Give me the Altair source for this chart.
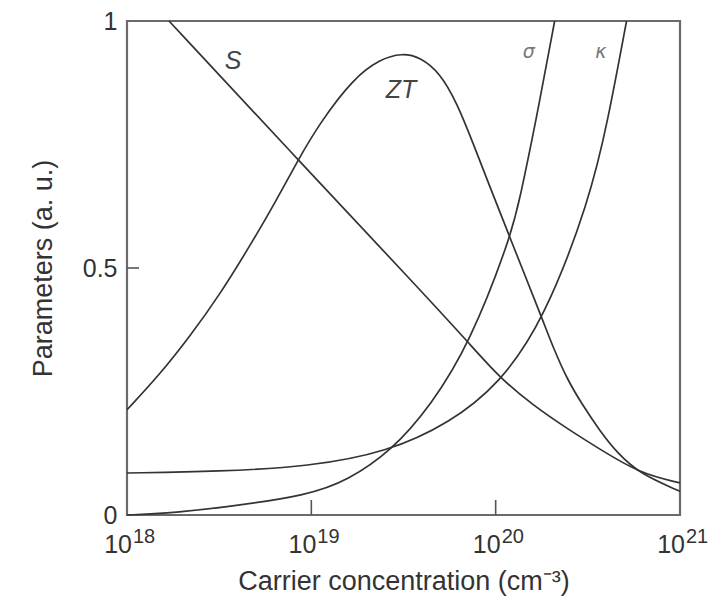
import altair as alt
import pandas as pd

# Carrier concentration given as log10(n / cm^-3); curve values in arbitrary units.
S_exp = [18.228, 18.928, 19.59, 19.855, 20.024, 20.203, 20.387, 20.566, 20.783, 21.0]
S_val = [1.0, 0.719, 0.456, 0.348, 0.277, 0.222, 0.175, 0.133, 0.084, 0.065]

ZT_exp = [18.0, 18.179, 18.342, 18.505, 18.667, 18.803, 18.928, 19.047, 19.226, 19.373,
          19.492, 19.59, 19.698, 19.79, 19.877, 19.969, 20.078, 20.257, 20.311, 20.387,
          20.474, 20.566, 20.658, 20.783, 21.0]
ZT_val = [0.213, 0.285, 0.362, 0.447, 0.545, 0.632, 0.719, 0.794, 0.883, 0.923,
          0.935, 0.927, 0.895, 0.834, 0.753, 0.664, 0.561, 0.393, 0.340, 0.275,
          0.221, 0.170, 0.126, 0.083, 0.048]

sigma_exp = [18.0, 18.2, 18.5, 18.99, 19.2, 19.43, 19.65, 19.86, 20.08, 20.13, 20.22, 20.32]
sigma_val = [0.0, 0.003, 0.014, 0.040, 0.071, 0.128, 0.222, 0.348, 0.561, 0.638, 0.80, 1.0]

kappa_exp = [18.0, 18.5, 18.99, 19.41, 19.75, 20.02, 20.26, 20.51, 20.61, 20.71]
kappa_val = [0.085, 0.088, 0.098, 0.127, 0.186, 0.265, 0.393, 0.638, 0.80, 1.0]

decades = [18, 19, 20, 21]
inner_ticks = [19, 20]
y_ticks = [0, 0.5, 1]

# Curve name annotations
name_text = ["S", "ZT"]
name_exp = [18.575, 19.487]
name_val = [0.919, 0.860]
greek_text = ["σ", "κ"]
greek_exp = [20.18, 20.57]
greek_val = [0.937, 0.937]

W, H = 553, 494
FONT = "Liberation Sans"
INK = "#333333"

rows = []
for name, ex, vals in [("S", S_exp, S_val), ("ZT", ZT_exp, ZT_val),
                       ("sigma", sigma_exp, sigma_val), ("kappa", kappa_exp, kappa_val)]:
    for e, v in zip(ex, vals):
        rows.append({"curve": name, "n": 10.0 ** e, "v": v})
curves = pd.DataFrame(rows)

dec_df = pd.DataFrame({"n": [10.0 ** d for d in decades],
                       "base": ["10"] * len(decades),
                       "power": [str(d) for d in decades]})
tick_df = pd.DataFrame({"n": [10.0 ** d for d in inner_ticks]})
names_df = pd.DataFrame({"label": name_text, "n": [10.0 ** e for e in name_exp], "v": name_val})
greek_df = pd.DataFrame({"label": greek_text, "n": [10.0 ** e for e in greek_exp], "v": greek_val})
ytick_df = pd.DataFrame({"v": [0.5]})

xscale = alt.Scale(type="log", domain=[1e18, 1e21], nice=False)
yscale = alt.Scale(domain=[0, 1], nice=False)

x_enc = alt.X("n:Q", scale=xscale,
              axis=alt.Axis(labels=False, ticks=False, domain=False, grid=False,
                            title="Carrier concentration (cm⁻³)",
                            titleY=66, titleBaseline="middle",
                            titleFont=FONT, titleFontSize=27, titleFontWeight="normal",
                            titleColor=INK))
y_enc = alt.Y("v:Q", scale=yscale,
              axis=alt.Axis(values=y_ticks, format=".1~f", ticks=False, domain=False,
                            grid=False, labelPadding=10, labelFontSize=25,
                            labelColor=INK, labelFont=FONT,
                            title="Parameters (a. u.)", titleX=-84, titleY=H / 2,
                            titleBaseline="middle", titleAngle=-90,
                            titleFont=FONT, titleFontSize=27, titleFontWeight="normal",
                            titleColor=INK))

lines = alt.Chart(curves).mark_line(
    interpolate="basis", color=INK, strokeWidth=1.7
).encode(x=x_enc, y=y_enc, detail="curve:N")

x_inner = alt.Chart(tick_df).mark_rule(color="#555555", strokeWidth=1.6).encode(
    x="n:Q", y=alt.value(H), y2=alt.value(H - 15))

y_inner = alt.Chart(ytick_df).mark_rule(color="#555555", strokeWidth=1.6).encode(
    y="v:Q", x=alt.value(0), x2=alt.value(12))

base_lbl = alt.Chart(dec_df).mark_text(
    font=FONT, fontSize=25, color=INK, align="right", baseline="middle", dx=5, dy=30
).encode(x="n:Q", y=alt.datum(0), text="base:N")

pow_lbl = alt.Chart(dec_df).mark_text(
    font=FONT, fontSize=20, color=INK, align="left", baseline="middle", dx=6, dy=22
).encode(x="n:Q", y=alt.datum(0), text="power:N")

names = alt.Chart(names_df).mark_text(
    font=FONT, fontSize=25, fontStyle="italic", color="#444444",
    align="center", baseline="middle"
).encode(x="n:Q", y="v:Q", text="label:N")

greek = alt.Chart(greek_df).mark_text(
    font="DejaVu Sans", fontSize=19, fontStyle="italic", color="#777777",
    align="center", baseline="middle"
).encode(x="n:Q", y="v:Q", text="label:N")

chart = alt.layer(lines, x_inner, y_inner, base_lbl, pow_lbl, names, greek).properties(
    width=W, height=H,
    background="white",
    autosize=alt.AutoSizeParams(type="none"),
    padding={"left": 127, "top": 21, "right": 46, "bottom": 87},
).configure_view(
    stroke="#6a6a6a", strokeWidth=2.2
)

chart.save("out.html", embed_options={"renderer": "svg", "actions": False})
